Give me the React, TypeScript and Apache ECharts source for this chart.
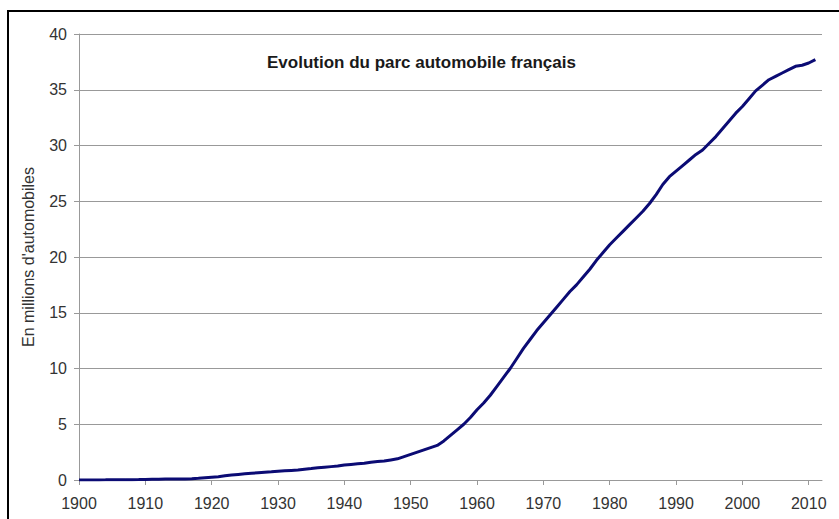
import React, { useEffect, useRef } from "react";
import * as echarts from "echarts";

const years: number[] = [];
for (let y = 1900; y <= 2011; y++) years.push(y);

// Parc automobile (millions), one value per year 1900..2011
const values: number[] = [
  // 1900-1909
  0.003, 0.005, 0.007, 0.01, 0.013, 0.017, 0.022, 0.027, 0.033, 0.04,
  // 1910-1919
  0.05, 0.06, 0.07, 0.08, 0.09, 0.09, 0.1, 0.12, 0.15, 0.2,
  // 1920-1929
  0.25, 0.3, 0.38, 0.45, 0.5, 0.55, 0.6, 0.65, 0.7, 0.73,
  // 1930-1939
  0.78, 0.82, 0.86, 0.9, 0.97, 1.03, 1.1, 1.15, 1.2, 1.25,
  // 1940-1949
  1.35, 1.4, 1.45, 1.5, 1.6, 1.65, 1.7, 1.8, 1.9, 2.1,
  // 1950-1959
  2.3, 2.5, 2.7, 2.9, 3.1, 3.5, 4.0, 4.5, 5.0, 5.6,
  // 1960-1969
  6.3, 6.9, 7.6, 8.4, 9.2, 10.0, 10.9, 11.8, 12.6, 13.4,
  // 1970-1979
  14.1, 14.8, 15.5, 16.2, 16.9, 17.5, 18.2, 18.9, 19.7, 20.4,
  // 1980-1989
  21.1, 21.7, 22.3, 22.9, 23.5, 24.1, 24.8, 25.6, 26.5, 27.2,
  // 1990-1999
  27.7, 28.2, 28.7, 29.2, 29.6, 30.2, 30.8, 31.5, 32.2, 32.9,
  // 2000-2009
  33.5, 34.2, 34.9, 35.4, 35.9, 36.2, 36.5, 36.8, 37.1, 37.2,
  // 2010-2011
  37.4, 37.7,
];

const xTicks: number[] = [1900, 1910, 1920, 1930, 1940, 1950, 1960, 1970, 1980, 1990, 2000, 2010];

const titleText = "Evolution du parc automobile français";
const yAxisName = "En millions d'automobiles";

export default function App() {
  const ref = useRef<HTMLDivElement>(null);
  useEffect(() => {
    if (!ref.current) return;
    const chart = echarts.init(ref.current, null, { renderer: "svg" });
    const font = "Arial, 'Liberation Sans', sans-serif";
    chart.setOption({
      animation: false,
      backgroundColor: "#ffffff",
      title: {
        text: titleText,
        left: 267,
        top: 54,
        padding: 0,
        textStyle: { fontSize: 17, fontWeight: "bold", color: "#1a1a1a", fontFamily: font },
      },
      graphic: [
        {
          type: "rect",
          shape: { x: 8, y: 11, width: 1000, height: 1000 },
          style: { fill: "none", stroke: "#000", lineWidth: 2 },
          silent: true,
        },
      ],
      grid: { left: 79, top: 34, right: 17, bottom: 39 },
      xAxis: {
        type: "value",
        min: 1900,
        max: 2012,
        interval: 10,
        axisLine: { show: true, lineStyle: { color: "#999", width: 1 } },
        axisTick: { show: true, length: 5, lineStyle: { color: "#999" }, customValues: xTicks },
        axisLabel: {
          customValues: xTicks,
          margin: 15,
          fontSize: 16,
          color: "#333",
          fontFamily: font,
          formatter: (v: number) => String(v),
        },
        splitLine: { show: false },
      },
      yAxis: {
        type: "value",
        min: 0,
        max: 40,
        interval: 5,
        name: yAxisName,
        nameLocation: "middle",
        nameGap: 43,
        nameRotate: 90,
        nameTextStyle: { fontSize: 16, color: "#333", fontFamily: font },
        axisLine: { show: true, lineStyle: { color: "#999", width: 1 } },
        axisTick: { show: true, length: 5, lineStyle: { color: "#999" } },
        axisLabel: { margin: 12, fontSize: 16, color: "#333", fontFamily: font },
        splitLine: { show: true, lineStyle: { color: "#999", width: 1 } },
      },
      series: [
        {
          type: "line",
          data: years.map((y, i) => [y, values[i]]),
          showSymbol: false,
          smooth: false,
          lineStyle: { color: "#0b0b74", width: 3 },
        },
      ],
    });
    return () => chart.dispose();
  }, []);
  return (
    <div
      ref={ref}
      style={{ position: "fixed", left: 0, top: 0, width: 839, height: 519 }}
    />
  );
}
